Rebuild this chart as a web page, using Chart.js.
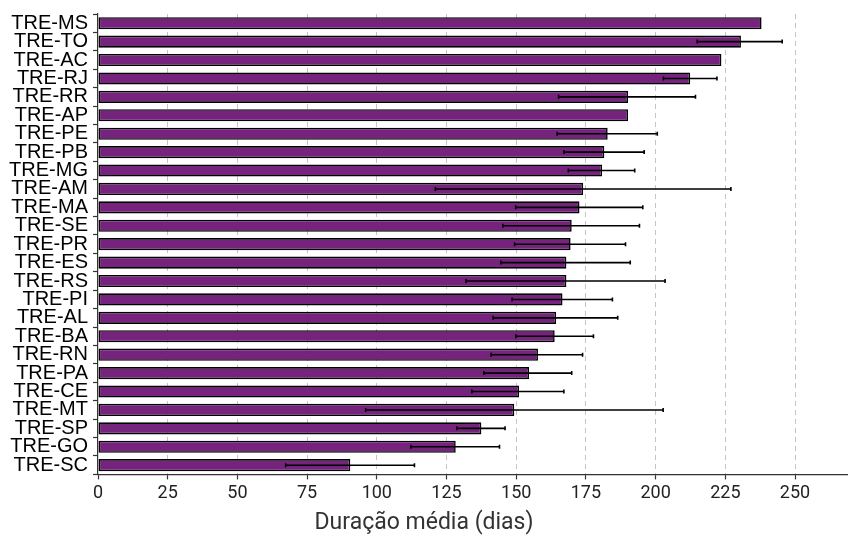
<!DOCTYPE html>
<html>
<head>
<meta charset="utf-8">
<script src="https://cdn.jsdelivr.net/npm/chart.js@4.4.0/dist/chart.umd.min.js"></script>
<style>
  body { margin: 0; background: #fff; }
  #wrap { width: 848px; height: 537px; }
</style>
</head>
<body>
<div id="wrap"><canvas id="duracaoChart"></canvas></div>
<script>
// dados
const categories = ['TRE-MS', 'TRE-TO', 'TRE-AC', 'TRE-RJ', 'TRE-RR', 'TRE-AP', 'TRE-PE', 'TRE-PB',
    'TRE-MG', 'TRE-AM', 'TRE-MA', 'TRE-SE', 'TRE-PR', 'TRE-ES', 'TRE-RS', 'TRE-PI', 'TRE-AL',
    'TRE-BA', 'TRE-RN', 'TRE-PA', 'TRE-CE', 'TRE-MT', 'TRE-SP', 'TRE-GO', 'TRE-SC'];
const means = [238, 230.6, 223.6, 212.4, 190.1, 190.1, 182.8, 181.6, 180.8, 174, 172.7, 169.9,
    169.5, 168, 168, 166.6, 164.3, 163.8, 157.8, 154.6, 151, 149.3, 137.5, 128.3, 90.5];
const lower = [null, 214.9, null, 202.8, 165.2, null, 164.7, 167.1, 168.7, 121, 149.8, 145.2,
    149.4, 144.5, 132, 148.5, 141.7, 149.9, 141, 138.4, 134.1, 96, 128.7, 112.2, 67.3];
const upper = [null, 245.4, null, 222, 214.3, null, 200.6, 195.9, 192.5, 227, 195.4, 194.2,
    189.2, 190.9, 203.4, 184.5, 186.4, 177.7, 173.8, 169.9, 167.1, 202.7, 146, 144, 113.5];
const xTicks = [0, 25, 50, 75, 100, 125, 150, 175, 200, 225, 250];

const purple = '#76237e';

// barras de erro desenhadas por cima das barras
const errorBars = {
    id: 'errorBars',
    afterDatasetsDraw(chart) {
        const ctx = chart.ctx;
        const x = chart.scales.x;
        const meta = chart.getDatasetMeta(0);
        ctx.save();
        ctx.strokeStyle = '#000';
        ctx.lineWidth = 1.6;
        meta.data.forEach((bar, i) => {
            if (lower[i] == null) return;
            const x1 = x.getPixelForValue(lower[i]);
            const x2 = x.getPixelForValue(upper[i]);
            const y = bar.y;
            ctx.beginPath();
            ctx.moveTo(x1, y); ctx.lineTo(x2, y);
            ctx.moveTo(x1, y - 2); ctx.lineTo(x1, y + 2);
            ctx.moveTo(x2, y - 2); ctx.lineTo(x2, y + 2);
            ctx.stroke();
        });
        ctx.restore();
    }
};

new Chart(document.getElementById('duracaoChart'), {
    type: 'bar',
    data: {
        labels: categories,
        datasets: [{
            data: means,
            backgroundColor: purple,
            borderColor: '#000',
            borderWidth: 1.6,
            borderSkipped: false,
            categoryPercentage: 1,
            barPercentage: 0.66
        }]
    },
    options: {
        indexAxis: 'y',
        responsive: true,
        maintainAspectRatio: false,
        animation: false,
        layout: { padding: { top: 12, right: 0, left: 0, bottom: 0 } },
        plugins: {
            legend: { display: false },
            tooltip: { enabled: false },
            title: {
                display: true,
                position: 'bottom',
                text: 'Duração média (dias)',
                color: '#333',
                font: { family: 'Roboto', size: 23, weight: 'normal' },
                padding: { top: 0, bottom: 0 }
            }
        },
        scales: {
            x: {
                min: 0,
                max: 269,
                afterBuildTicks: s => { s.ticks = xTicks.map(v => ({ value: v })); },
                afterFit: s => { s.height = 35; },
                ticks: {
                    color: '#222',
                    font: { family: 'Roboto', size: 18 },
                    padding: 3
                },
                grid: {
                    color: ctx => ctx.tick && ctx.tick.value === 0 ? 'rgba(0,0,0,0)' : '#c4c4c4',
                    lineWidth: 1,
                    tickLength: 5,
                    tickColor: '#333',
                    tickWidth: 1.2
                },
                border: { display: true, color: '#333', width: 1.2, dash: [5, 4] }
            },
            y: {
                afterFit: s => { s.width = 98; },
                ticks: {
                    autoSkip: false,
                    color: '#000',
                    font: { family: 'Liberation Sans', size: 20, lineHeight: 0.9 },
                    padding: 5
                },
                grid: {
                    drawOnChartArea: false,
                    tickLength: 5,
                    tickColor: '#333',
                    tickWidth: 1.2
                },
                border: { display: true, color: '#333', width: 1.2 }
            }
        }
    },
    plugins: [errorBars]
});
</script>
</body>
</html>
